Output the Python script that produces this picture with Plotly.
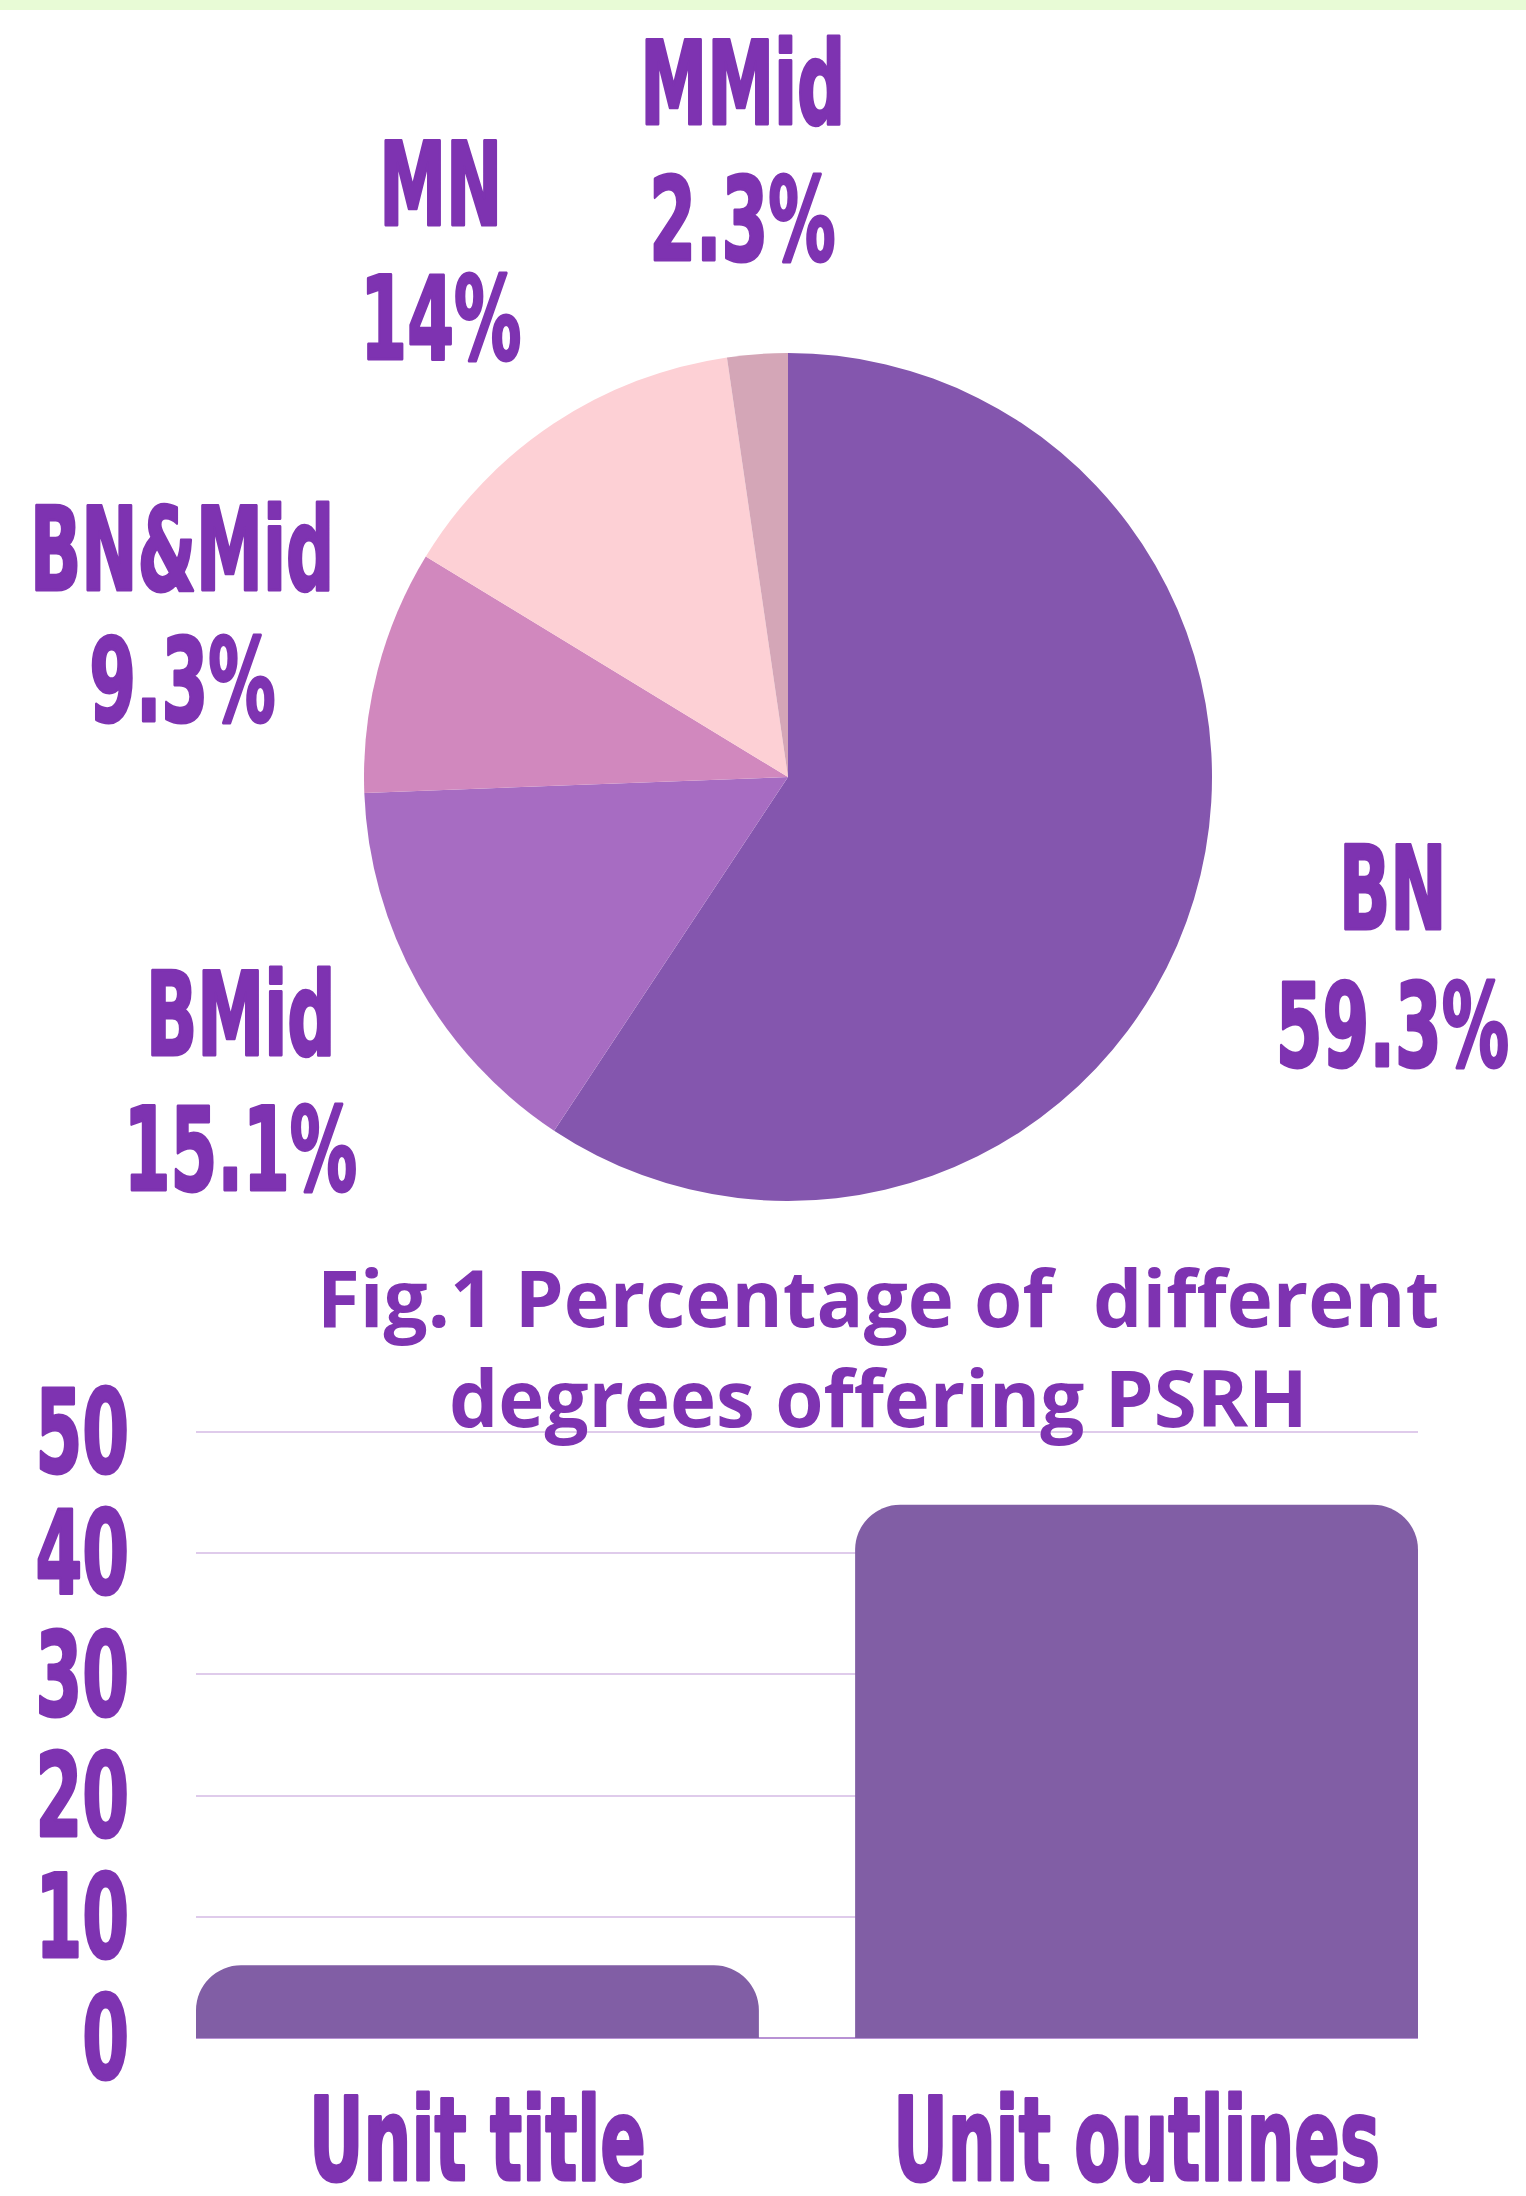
import plotly.graph_objects as go

W, H = 1526, 2196

# ---- data ----
pie_labels = ["BN", "BMid", "BN&Mid", "MN", "MMid"]
pie_values = [59.3, 15.1, 9.3, 14, 2.3]
pie_text = ["59.3%", "15.1%", "9.3%", "14%", "2.3%"]
pie_colors = ["#8456ae", "#a76cc2", "#d188be", "#fdd0d5", "#d4a6b7"]

bar_categories = ["Unit title", "Unit outlines"]
bar_values = [6, 44]
y_ticks = [0, 10, 20, 30, 40, 50]

title_lines = ["Fig.1 Percentage of  different", "degrees offering PSRH"]

PURPLE = "#7e33b1"
COND = "DejaVu Sans Condensed"
LS = 115          # size of the condensed display text
SQUEEZE = 0.65    # horizontal condensing of the display text


def px(x):
    return x / W


def py(y):
    return 1 - y / H


fig = go.Figure()

# pie geometry (pixels)
cx, cy, r = 788, 777, 424
fig.add_trace(go.Pie(
    labels=pie_labels, values=pie_values, sort=False, direction="clockwise",
    rotation=0, marker=dict(colors=pie_colors, line=dict(width=0)),
    textinfo="none", hoverinfo="label+percent", showlegend=False,
    domain=dict(x=[px(cx - r), px(cx + r)], y=[py(cy + r), py(cy - r)]),
))

fig.add_trace(go.Bar(
    x=bar_categories, y=bar_values, width=0.854,
    marker=dict(color="#815ea5", cornerradius=45, line=dict(width=0)),
    showlegend=False,
))

# pie label positions (pixel centres for name line and percent line)
label_pos = {
    "BN": (1392, 889, 1026),
    "BMid": (241, 1015, 1150),
    "BN&Mid": (182, 550, 681),
    "MN": (441, 185, 319),
    "MMid": (742, 84, 220),
}
annotations = []
for lab, pct in zip(pie_labels, pie_text):
    x, y1, y2 = label_pos[lab]
    for txt, yy in ((lab, y1), (pct, y2)):
        annotations.append(dict(
            text=txt, x=px(x), y=py(yy), xref="paper", yref="paper",
            xanchor="center", yanchor="middle", showarrow=False,
            font=dict(family=COND, size=LS, color=PURPLE, weight="bold"),
        ))

for txt, yy in zip(title_lines, [1297, 1397]):
    annotations.append(dict(
        text=txt, x=px(878), y=py(yy), xref="paper", yref="paper",
        xanchor="center", yanchor="middle", showarrow=False,
        font=dict(family="Open Sans", size=78, color=PURPLE, weight="bold"),
    ))

fig.update_layout(
    template="none",
    width=W, height=H, margin=dict(l=0, r=0, t=0, b=0, autoexpand=False),
    paper_bgcolor="white", plot_bgcolor="white",
    annotations=annotations,
    shapes=[dict(type="rect", xref="paper", yref="paper", x0=0, x1=1,
                 y0=py(10), y1=1, fillcolor="#e8fbd6", line=dict(width=0),
                 layer="below")],
    xaxis=dict(domain=[px(196), px(1418)], range=[-0.427, 1.427],
               automargin=False, tickangle=0,
               showgrid=False, zeroline=False, showline=False, ticks="",
               tickfont=dict(family=COND, size=LS, color=PURPLE, weight="bold"),
               ticklabelstandoff=20),
    yaxis=dict(domain=[py(2044), py(1426)], range=[-0.5, 50.5],
               automargin=False,
               tickvals=y_ticks, ticktext=[str(t) for t in y_ticks],
               showgrid=True, gridcolor="#dfcbeb", gridwidth=1.5,
               zeroline=True, zerolinecolor="#b892d4", zerolinewidth=2,
               showline=False, ticks="",
               tickfont=dict(family=COND, size=LS, color=PURPLE, weight="bold"),
               ticklabelstandoff=66),
)

# condense the display text horizontally (the reference uses a very narrow face)
post = """
document.body.style.margin = '0';
document.body.style.overflow = 'hidden';
var gd = document.getElementById('{plot_id}');
function squeeze() {
  var texts = gd.querySelectorAll('text');
  texts.forEach(function (t) {
    var fam = t.style.fontFamily || '';
    if (fam.indexOf('DejaVu Sans Condensed') < 0) return;
    var cur = t.getAttribute('transform') || '';
    if (t.getAttribute('data-sq') === cur && cur !== '') return;
    var bb = t.getBBox();
    var anchor = t.getAttribute('text-anchor') || t.style.textAnchor || 'start';
    var ax = bb.x + bb.width / 2;
    if (anchor === 'end') ax = bb.x + bb.width;
    var nt = cur + ' translate(' + ax + ',0) scale(%K%,1) translate(' + (-ax) + ',0)';
    t.setAttribute('transform', nt);
    t.setAttribute('data-sq', nt);
    t.style.stroke = '%C%';
    t.style.strokeWidth = '3px';
    t.style.strokeLinejoin = 'round';
  });
}
squeeze();
setTimeout(squeeze, 200);
""".replace("%K%", str(SQUEEZE)).replace("%C%", PURPLE)

fig.write_html("out.html", post_script=post, config={"displayModeBar": False})
